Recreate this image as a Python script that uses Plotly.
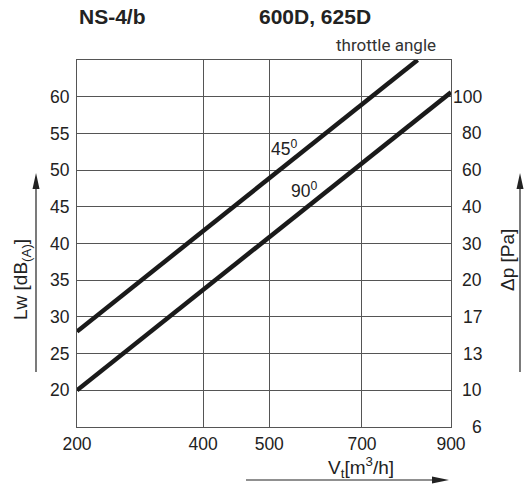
"""NS-4/b sound power / pressure drop chart for 600D, 625D."""
import numpy as np
import plotly.graph_objects as go

# flow axis (m3/h) - drawn on the chart's own non-uniform scale
flow_ticks = [200, 400, 500, 700, 900]
flow_scale = [0.0, 0.337, 0.514, 0.762, 1.0]

# left axis: sound power level, right axis: pressure drop
lw_ticks = [15, 20, 25, 30, 35, 40, 45, 50, 55, 60]
dp_labels = ["6", "10", "13", "17", "20", "30", "40", "60", "80", "100"]

# throttle angle curves
flow_45 = [200, 825]
lw_45 = [28, 65]
flow_90 = [200, 900]
lw_90 = [20, 60.6]


def fpos(v):
    return np.interp(v, flow_ticks, flow_scale)


LINE = "#1a1a1a"
GRID = "#555555"
FONT = "Liberation Sans, Arial, sans-serif"
L, T, W, H = 77, 60, 374, 367  # plot area in pixels


def px(x, y):
    """pixel position -> paper coords"""
    return (x - L) / W, (T + H - y) / H


fig = go.Figure()
fig.add_trace(go.Scatter(x=fpos(flow_45), y=lw_45, mode="lines",
                         line=dict(color=LINE, width=4.5), showlegend=False))
fig.add_trace(go.Scatter(x=fpos(flow_90), y=lw_90, mode="lines",
                         line=dict(color=LINE, width=4.5), showlegend=False))

fig.update_layout(
    width=530, height=490,
    margin=dict(l=L, r=530 - L - W, t=T, b=490 - T - H),
    plot_bgcolor="white", paper_bgcolor="white",
    font=dict(family=FONT, size=17.5, color="#222"),
    xaxis=dict(range=[0, 1], tickvals=fpos(flow_ticks),
               ticktext=[str(v) for v in flow_ticks],
               showgrid=True, gridcolor=GRID, gridwidth=1,
               showline=True, linecolor=GRID, linewidth=1.2, mirror=True,
               zeroline=False, ticks="", ticklabelstandoff=1, automargin=False),
    yaxis=dict(range=[15, 65], tickvals=lw_ticks[1:],
               showgrid=True, gridcolor=GRID, gridwidth=1,
               showline=True, linecolor=GRID, linewidth=1.2, mirror=True,
               zeroline=False, ticks="", ticklabelstandoff=3, automargin=False),
)


def label(x, y, text, size, angle=0, **kw):
    return dict(x=x, y=y, xref="paper", yref="paper", text=text, textangle=angle,
                xanchor="center", yanchor="middle", showarrow=False,
                font=dict(size=size, **kw))


ann = []
# right-hand pressure-drop scale, aligned to the left axis ticks
for lw, dp in zip(lw_ticks, dp_labels):
    ann.append(dict(x=px(484, 0)[0], y=lw, xref="paper", yref="y", text=dp,
                    xanchor="right", yanchor="middle", showarrow=False,
                    font=dict(size=17.5)))
# curve labels
ann.append(dict(x=fpos(531), y=53.0, xref="x", yref="y", text="45<sup>0</sup>",
                xanchor="center", yanchor="middle", showarrow=False, font=dict(size=17.5)))
ann.append(dict(x=fpos(575), y=47.3, xref="x", yref="y", text="90<sup>0</sup>",
                xanchor="center", yanchor="middle", showarrow=False, font=dict(size=17.5)))
# titles
ann.append(label(*px(112, 17), "<b>NS-4/b</b>", 21))
ann.append(label(*px(315, 17), "<b>600D, 625D</b>", 21))
ann.append(label(*px(386, 45), "throttle angle", 17, family="Roboto, sans-serif", color="#333"))
# axis titles
ann.append(label(*px(22, 280), "Lw [dB<sub>(A)</sub>]", 19, angle=-90))
ann.append(label(*px(507, 260), "Δp [Pa]", 19, angle=-90))
ann.append(label(*px(361, 467), "V<sub>t</sub>[m<sup>3</sup>/h]", 19))
fig.update_layout(annotations=ann)

# direction arrows: shaft + narrow filled head
shapes = []
for ax in (36, 520):
    x0, y0 = px(ax, 372)
    x1, y1 = px(ax, 186)
    shapes.append(dict(type="line", xref="paper", yref="paper", x0=x0, y0=y0, x1=x1, y1=y1,
                       line=dict(color="#222", width=1.2)))
    tx, ty = px(ax, 173)
    bl = px(ax - 3.5, 189)
    br = px(ax + 3.5, 189)
    shapes.append(dict(type="path", xref="paper", yref="paper",
                       path=f"M{tx},{ty} L{bl[0]},{bl[1]} L{br[0]},{br[1]} Z",
                       fillcolor="#222", line=dict(width=0)))
x0, y0 = px(246, 480)
x1, y1 = px(436, 480)
shapes.append(dict(type="line", xref="paper", yref="paper", x0=x0, y0=y0, x1=x1, y1=y1,
                   line=dict(color="#222", width=1.2)))
tx, ty = px(449, 480)
bt = px(432, 476.5)
bb = px(432, 483.5)
shapes.append(dict(type="path", xref="paper", yref="paper",
                   path=f"M{tx},{ty} L{bt[0]},{bt[1]} L{bb[0]},{bb[1]} Z",
                   fillcolor="#222", line=dict(width=0)))
fig.update_layout(shapes=shapes)

fig.write_html("out.html", config={"displayModeBar": False},
               post_script="document.body.style.margin='0px';")
